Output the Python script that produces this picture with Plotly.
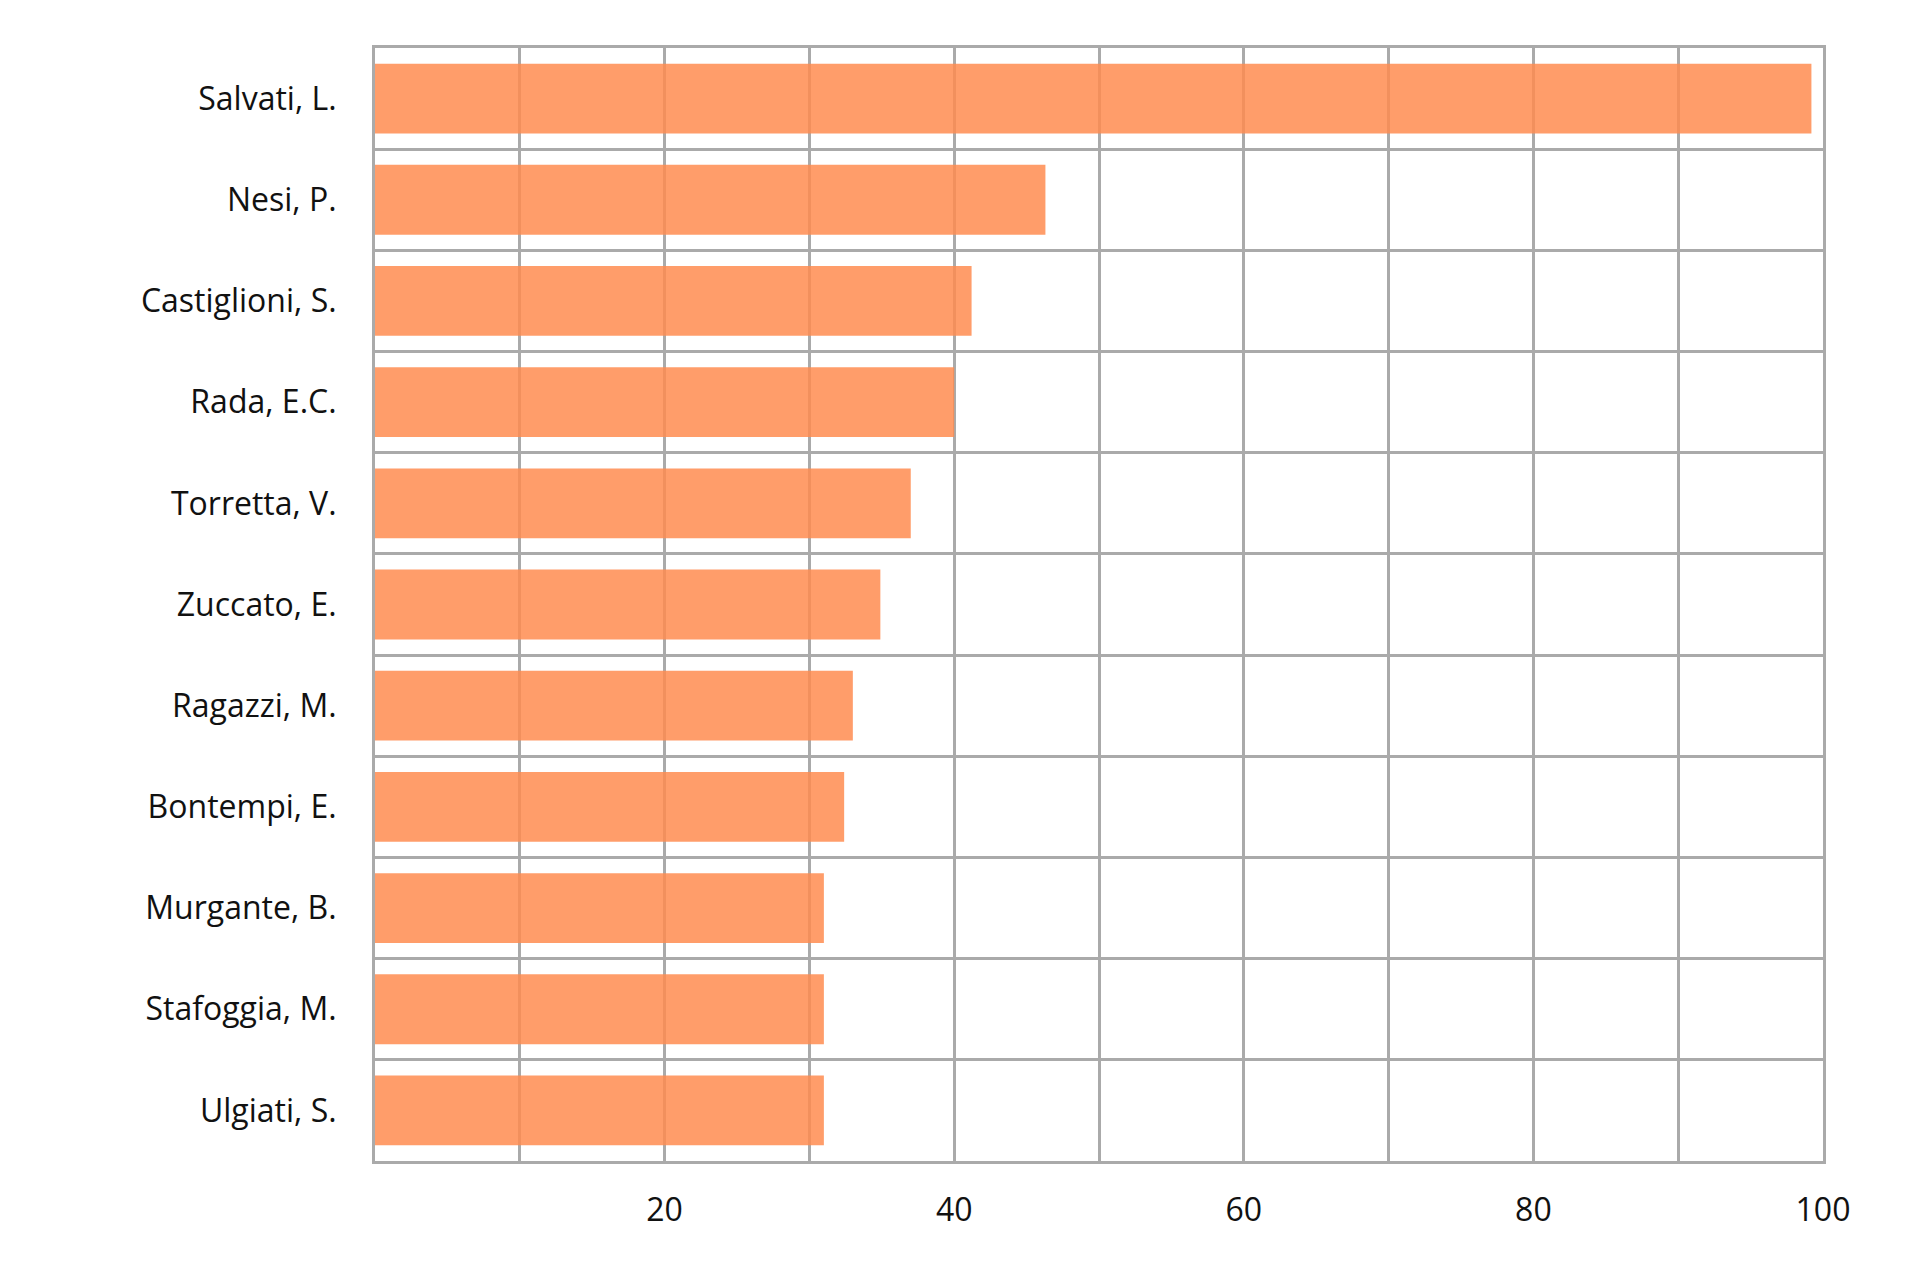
import plotly.graph_objects as go

authors = ["Salvati, L.", "Nesi, P.", "Castiglioni, S.", "Rada, E.C.", "Torretta, V.",
           "Zuccato, E.", "Ragazzi, M.", "Bontempi, E.", "Murgante, B.", "Stafoggia, M.",
           "Ulgiati, S."]
values = [99.2, 46.3, 41.2, 40.0, 37.0, 34.9, 33.0, 32.4, 31.0, 31.0, 31.0]
x_tickvals = [10, 20, 30, 40, 50, 60, 70, 80, 90, 100]
x_ticktext = ["", "20", "", "40", "", "60", "", "80", "", "100"]

FONT = "Open Sans"
GRID = "#aaaaaa"

fig = go.Figure(go.Bar(
    x=values, y=authors, orientation="h",
    marker=dict(color="rgba(255,140,80,0.85)", line=dict(width=0)),
    width=0.69,
))

fig.update_layout(
    width=1920, height=1272,
    margin=dict(l=375, r=97, t=48, b=111),
    paper_bgcolor="white", plot_bgcolor="white",
    showlegend=False,
    font=dict(family=FONT, size=32, color="#111111"),
)
fig.update_xaxes(
    range=[0, 100], tickvals=x_tickvals, ticktext=x_ticktext,
    showgrid=True, gridcolor=GRID, gridwidth=2.5,
    showline=True, linecolor=GRID, linewidth=3, mirror=True,
    zeroline=False, ticks="", ticklabelstandoff=19,
    tickfont=dict(family=FONT, size=32, color="#111111"),
)
fig.update_yaxes(
    type="category", categoryorder="array", categoryarray=authors,
    autorange="reversed", tickson="boundaries",
    showgrid=True, gridcolor=GRID, gridwidth=2.5,
    showline=True, linecolor=GRID, linewidth=3, mirror=True,
    zeroline=False, ticks="", ticklabelstandoff=29,
    tickfont=dict(family=FONT, size=32, color="#111111"),
)

fig.write_html("out.html")
